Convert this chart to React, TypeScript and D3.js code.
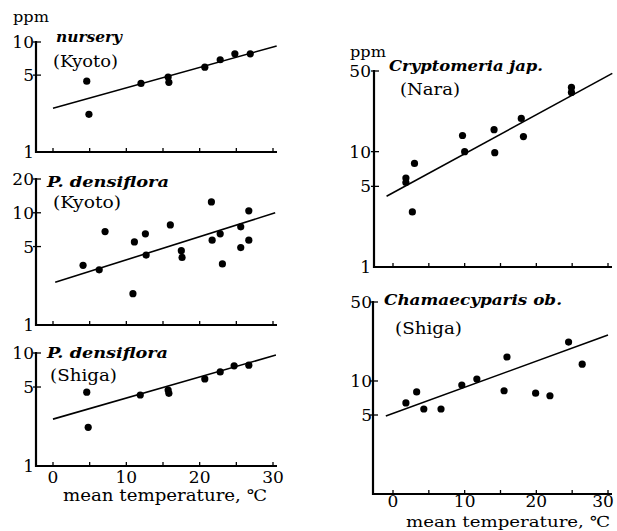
import React from 'react';
import * as d3 from 'd3';

// ---- data (temperature in degC, content in ppm) ----
const xTicks = [0, 5, 10, 15, 20, 25, 30];
const xTickLabels = [0, 10, 20, 30];

const nurseryTemp = [4.6, 4.9, 12.0, 15.7, 15.8, 20.7, 22.8, 24.8, 26.9];
const nurseryPpm = [4.4, 2.2, 4.2, 4.8, 4.3, 5.9, 6.9, 7.8, 7.8];
const nurseryFitTemp = [0, 30.5];
const nurseryFitPpm = [2.5, 9.2];
const nurseryYTicks = [1, 5, 10];

const kyotoTemp = [4.1, 6.3, 7.1, 11.1, 10.9, 12.6, 12.7, 16.0, 17.5, 17.6, 21.6, 21.7, 22.8, 23.1, 25.6, 25.6, 26.7, 26.7];
const kyotoPpm = [3.4, 3.1, 6.8, 5.5, 1.9, 6.5, 4.2, 7.8, 4.6, 4.0, 12.5, 5.7, 6.5, 3.5, 7.5, 4.9, 10.4, 5.7];
const kyotoFitTemp = [0.3, 30.3];
const kyotoFitPpm = [2.4, 10];
const kyotoYTicks = [1, 5, 10, 20];

const shigaTemp = [4.6, 4.8, 11.9, 15.7, 15.8, 20.7, 22.8, 24.7, 26.7];
const shigaPpm = [4.5, 2.2, 4.25, 4.7, 4.4, 5.9, 6.8, 7.7, 7.8];
const shigaFitTemp = [0, 30.4];
const shigaFitPpm = [2.6, 9.6];
const shigaYTicks = [1, 5, 10];

const naraTemp = [1.8, 1.8, 3.0, 2.7, 9.7, 10.0, 14.1, 14.2, 17.9, 18.2, 24.9, 24.9];
const naraPpm = [5.9, 5.4, 7.9, 3.0, 13.8, 10.0, 15.5, 9.8, 19.4, 13.5, 36, 32.6];
const naraFitTemp = [-0.9, 30.6];
const naraFitPpm = [4.1, 47.7];
const naraYTicks = [1, 5, 10, 50];

const chamTemp = [1.8, 3.3, 4.3, 6.7, 9.6, 11.7, 15.5, 15.9, 19.9, 21.9, 24.5, 26.4];
const chamPpm = [6.4, 8.0, 5.65, 5.65, 9.2, 10.4, 8.2, 16.3, 7.8, 7.4, 22.1, 14.1];
const chamFitTemp = [-1, 30];
const chamFitPpm = [4.9, 25.5];
const chamYTicks = [5, 10, 50];

const SERIF = '"DejaVu Serif", "Liberation Serif", serif';

type PanelProps = {
  temp: number[];
  ppm: number[];
  fitTemp: number[];
  fitPpm: number[];
  yMax: number;
  yTicks: number[];
  title: string;
  titleWidth: number;
  site: string;
  siteWidth: number;
  // layout
  axisX: number;
  axisRight: number;
  x0: number;
  x30: number;
  yBottom: number;
  yTop: number;
  titleX: number;
  titleY: number;
  siteX: number;
  siteY: number;
  labelEnd: number;
  showXLabels?: boolean;
  xLabelY?: number;
  xLabelMax?: number;
  axisTitleX?: number;
  axisTitleY?: number;
  axisTitleWidth?: number;
  axisTitleSize?: number;
  ppmX?: number;
  ppmY?: number;
};

const Panel = (p: PanelProps) => {
  const x = d3.scaleLinear().domain([0, 30]).range([p.x0, p.x30]);
  const y = d3.scaleLog().domain([1, p.yMax]).range([p.yBottom, p.yTop]);
  const fit = d3.line<number>()
    .x((d, i) => x(p.fitTemp[i]))
    .y(d => y(d));
  const labelMax = p.xLabelMax ?? 1000;

  return (
    <g>
      {p.ppmX !== undefined && (
        <text x={p.ppmX} y={p.ppmY} fontFamily={SERIF} fontSize={15} textLength={36} lengthAdjust="spacingAndGlyphs">ppm</text>
      )}
      {/* axes */}
      <line x1={p.axisX} x2={p.axisX} y1={y(p.yMax) - 1} y2={p.yBottom + 1} stroke="#000" strokeWidth={2.2} />
      <line x1={p.axisX - 1} x2={p.axisRight} y1={p.yBottom} y2={p.yBottom} stroke="#000" strokeWidth={2.2} />
      {xTicks.map(t => (
        <line key={'xt' + t} x1={x(t)} x2={x(t)} y1={p.yBottom} y2={p.yBottom - 4} stroke="#000" strokeWidth={1.3} />
      ))}
      {p.yTicks.map(t => (
        <g key={'yt' + t}>
          {t !== 1 && (
            <line x1={p.axisX - 3} x2={p.axisX + 5} y1={y(t)} y2={y(t)} stroke="#000" strokeWidth={1.3} />
          )}
          <text x={p.labelEnd} y={y(t)} dy="0.36em" textAnchor="end" fontFamily={SERIF} fontSize={17}>{t}</text>
        </g>
      ))}
      {p.showXLabels && xTickLabels.map(t => (
        <text key={'xl' + t} x={Math.min(x(t), labelMax)} y={p.xLabelY} textAnchor="middle" fontFamily={SERIF} fontSize={17}>{t}</text>
      ))}
      {p.showXLabels && (
        <text x={p.axisTitleX} y={p.axisTitleY} fontFamily={SERIF} fontSize={p.axisTitleSize ?? 16} textLength={p.axisTitleWidth} lengthAdjust="spacingAndGlyphs">mean temperature, ℃</text>
      )}
      {/* titles */}
      <text x={p.titleX} y={p.titleY} fontFamily={SERIF} fontStyle="italic" fontWeight="bold" fontSize={15} textLength={p.titleWidth} lengthAdjust="spacingAndGlyphs">{p.title}</text>
      <text x={p.siteX} y={p.siteY} fontFamily={SERIF} fontSize={17} textLength={p.siteWidth} lengthAdjust="spacingAndGlyphs">{p.site}</text>
      {/* regression line */}
      <path d={fit(p.fitPpm) || ''} fill="none" stroke="#000" strokeWidth={1.6} />
      {/* observations */}
      {p.temp.map((t, i) => (
        <circle key={'pt' + i} cx={x(t)} cy={y(p.ppm[i])} r={3.6} fill="#000" />
      ))}
    </g>
  );
};

const App = () => {
  return (
    <svg width={617} height={531} style={{ position: 'absolute', left: 0, top: 0, background: '#fff' }}>
      <rect width={617} height={531} fill="#fff" />
      <Panel
        temp={nurseryTemp} ppm={nurseryPpm} fitTemp={nurseryFitTemp} fitPpm={nurseryFitPpm}
        yMax={10} yTicks={nurseryYTicks}
        title="nursery" titleWidth={66} site="(Kyoto)" siteWidth={65}
        axisX={36} axisRight={277} x0={53} x30={273} yBottom={152} yTop={42}
        titleX={56} titleY={42} siteX={53} siteY={67} labelEnd={34}
        ppmX={13} ppmY={22}
      />
      <Panel
        temp={kyotoTemp} ppm={kyotoPpm} fitTemp={kyotoFitTemp} fitPpm={kyotoFitPpm}
        yMax={20} yTicks={kyotoYTicks}
        title="P. densiflora" titleWidth={122} site="(Kyoto)" siteWidth={68}
        axisX={36} axisRight={277} x0={53} x30={273} yBottom={325} yTop={179}
        titleX={47} titleY={187} siteX={53} siteY={208} labelEnd={34}
      />
      <Panel
        temp={shigaTemp} ppm={shigaPpm} fitTemp={shigaFitTemp} fitPpm={shigaFitPpm}
        yMax={10} yTicks={shigaYTicks}
        title="P. densiflora" titleWidth={121} site="(Shiga)" siteWidth={67}
        axisX={36} axisRight={277} x0={53} x30={273} yBottom={466} yTop={353}
        titleX={47} titleY={358} siteX={50} siteY={381} labelEnd={34}
        showXLabels xLabelY={483} axisTitleX={63} axisTitleY={501} axisTitleWidth={204}
      />
      <Panel
        temp={naraTemp} ppm={naraPpm} fitTemp={naraFitTemp} fitPpm={naraFitPpm}
        yMax={50} yTicks={naraYTicks}
        title="Cryptomeria jap." titleWidth={154} site="(Nara)" siteWidth={60}
        axisX={374} axisRight={612} x0={393} x30={608} yBottom={267} yTop={71}
        titleX={389} titleY={71} siteX={400} siteY={95} labelEnd={371}
        ppmX={350} ppmY={57}
      />
      <Panel
        temp={chamTemp} ppm={chamPpm} fitTemp={chamFitTemp} fitPpm={chamFitPpm}
        yMax={50} yTicks={chamYTicks}
        title="Chamaecyparis ob." titleWidth={178} site="(Shiga)" siteWidth={67}
        axisX={373} axisRight={612} x0={393} x30={608} yBottom={494} yTop={302}
        titleX={384} titleY={305} siteX={395} siteY={334} labelEnd={372}
        showXLabels xLabelY={507} xLabelMax={603} axisTitleX={406} axisTitleY={527} axisTitleWidth={204} axisTitleSize={15}
      />
    </svg>
  );
};

export default App;
